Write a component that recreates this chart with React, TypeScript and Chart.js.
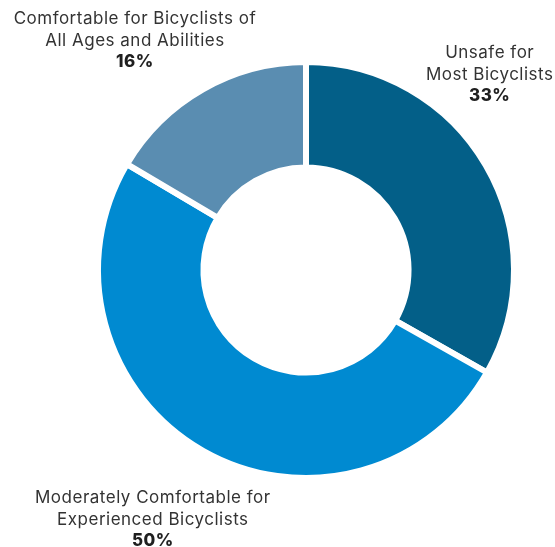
import React, { useEffect, useRef } from "react";
import { Chart, registerables } from "chart.js";

Chart.register(...registerables);

const categories = [
  ["Unsafe for", "Most Bicyclists"],
  ["Moderately Comfortable for", "Experienced Bicyclists"],
  ["Comfortable for Bicyclists of", "All Ages and Abilities"],
];
const shares = [33.2, 50.3, 16.5];
const percentLabels = ["33%", "50%", "16%"];
const colors = ["#035f88", "#008ad1", "#5a8db1"];

const FONT = "Inter, 'Noto Sans', sans-serif";

const labelPlugin = {
  id: "sliceLabels",
  afterDraw(chart: any, _args: any, opts: any) {
    const ctx = chart.ctx;
    const meta = chart.getDatasetMeta(0);
    const offsets = opts.offsets || [];
    ctx.save();
    ctx.textAlign = "center";
    ctx.textBaseline = "alphabetic";
    (ctx as any).letterSpacing = "0.5px";
    meta.data.forEach((arc: any, i: number) => {
      const p = arc.getProps(["x", "y", "startAngle", "endAngle", "outerRadius"], true);
      const mid = (p.startAngle + p.endAngle) / 2;
      const ax = p.x + Math.cos(mid) * p.outerRadius;
      const ay = p.y + Math.sin(mid) * p.outerRadius;
      const [dx, dy] = offsets[i] || [0, 0];
      const cx = ax + dx;
      let y = ay + dy;
      const lines = categories[i];
      ctx.fillStyle = "#333333";
      ctx.font = `400 17px ${FONT}`;
      lines.forEach((line) => {
        ctx.fillText(line, cx, y);
        y += opts.lineHeight;
      });
      ctx.fillStyle = "#1f1f1f";
      ctx.font = `800 17px ${FONT}`;
      ctx.fillText(percentLabels[i], cx, y - 1);
    });
    ctx.restore();
  },
};

export default function App() {
  const ref = useRef<HTMLCanvasElement | null>(null);
  useEffect(() => {
    if (!ref.current) return;
    const chart = new Chart(ref.current, {
      type: "doughnut",
      data: {
        labels: categories.map((c) => c.join(" ")),
        datasets: [
          {
            data: shares,
            backgroundColor: colors,
            borderColor: "#ffffff",
            borderWidth: 6,
            hoverBorderWidth: 6,
          },
        ],
      },
      options: {
        responsive: false,
        animation: false,
        cutout: "49.3%",
        layout: { padding: { left: 95, right: 38, top: 59, bottom: 66 } },
        plugins: {
          legend: { display: false },
          tooltip: { enabled: false },
          sliceLabels: {
            lineHeight: 22,
            offsets: [
              [4, -107],
              [-49, 53],
              [-68, -65],
            ],
          },
        } as any,
      },
      plugins: [labelPlugin],
    });
    return () => chart.destroy();
  }, []);
  return (
    <div style={{ position: "fixed", left: 0, top: 0, width: 555, height: 547, background: "#fff" }}>
      <canvas ref={ref} width={555} height={547} style={{ width: 555, height: 547, display: "block" }} />
    </div>
  );
}
